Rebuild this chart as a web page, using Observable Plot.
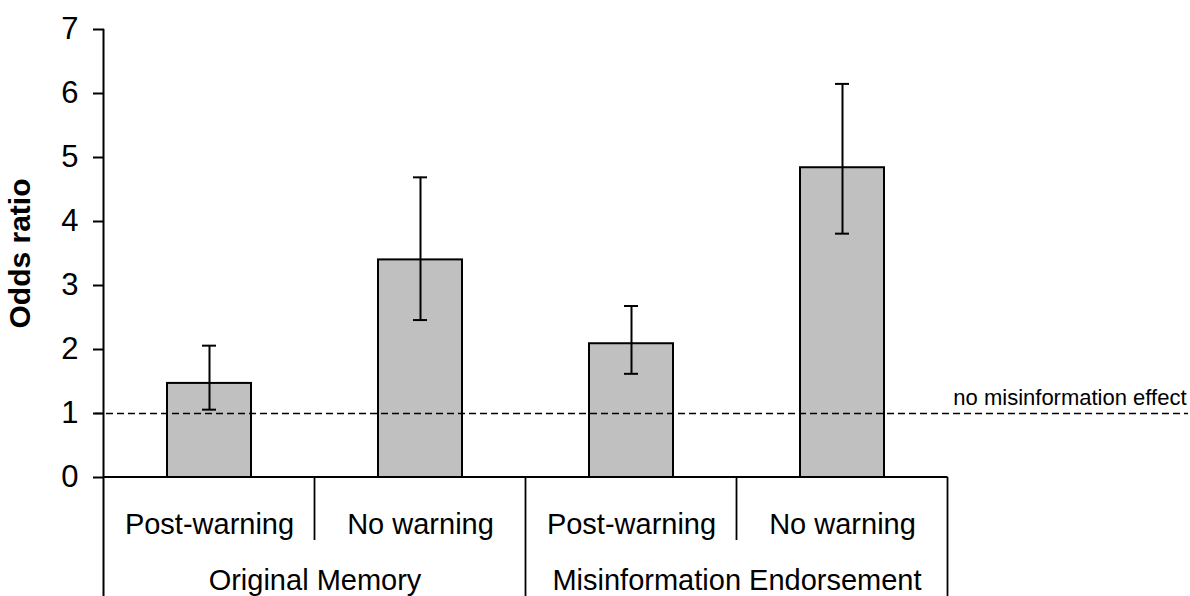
<!DOCTYPE html>
<html>
<head>
<meta charset="utf-8">
<script src="https://cdn.jsdelivr.net/npm/d3@7"></script>
<script src="https://cdn.jsdelivr.net/npm/@observablehq/plot@0.6"></script>
<style>
  html, body { margin: 0; padding: 0; background: #ffffff; }
  #chart { width: 1190px; height: 596px; }
</style>
</head>
<body>
<div id="chart"></div>
<script>
// ---- data ----
const groups = ["Original Memory", "Original Memory", "Misinformation Endorsement", "Misinformation Endorsement"];
const conditions = ["Post-warning", "No warning", "Post-warning", "No warning"];
const oddsRatio = [1.47, 3.40, 2.09, 4.84];
const ciLow = [1.06, 2.46, 1.62, 3.81];
const ciHigh = [2.06, 4.69, 2.68, 6.15];
const yTicks = [0, 1, 2, 3, 4, 5, 6, 7];
const yLabel = "Odds ratio";
const refValue = 1;
const refLabel = "no misinformation effect";

// ---- table built from the arrays ----
const data = conditions.map((c, i) => ({
  key: groups[i] + " | " + c,
  group: groups[i],
  condition: c,
  value: oddsRatio[i],
  lo: ciLow[i],
  hi: ciHigh[i]
}));
const keys = data.map(d => d.key);
const groupNames = Array.from(new Set(groups));
const groupData = groupNames.map(g => ({
  group: g,
  keys: data.filter(d => d.group === g).map(d => d.key)
}));

// ---- layout ----
const W = 1190, H = 596;
const mL = 104, mR = 242, mT = 29, mB = 119;
const FONT = "'Liberation Sans', Arial, Helvetica, sans-serif";

const plot = Plot.plot({
  width: W,
  height: H,
  marginLeft: mL,
  marginRight: mR,
  marginTop: mT,
  marginBottom: mB,
  style: { fontFamily: FONT, background: "#ffffff", color: "#000000", overflow: "visible" },
  x: { domain: keys, paddingInner: 0.6, paddingOuter: 0.3, axis: null },
  y: { domain: [0, 7], axis: null },
  marks: [
    Plot.axisY({
      ticks: yTicks,
      tickSize: 11,
      tickPadding: 15,
      fontSize: 31,
      strokeWidth: 2,
      label: null,
      tickFormat: d => String(d)
    }),
    Plot.barY(data, {
      x: "key", y: "value",
      fill: "#c0c0c0", stroke: "#000000", strokeWidth: 2
    }),
    Plot.ruleY([refValue], {
      stroke: "#000000", strokeWidth: 1.6, strokeDasharray: "7,4",
      insetLeft: -9, insetRight: -240
    }),
    Plot.ruleX(data, { x: "key", y1: "lo", y2: "hi", stroke: "#000000", strokeWidth: 2 }),
    Plot.tickY(data, { x: "key", y: "hi", stroke: "#000000", strokeWidth: 2, insetLeft: 35, insetRight: 35 }),
    Plot.tickY(data, { x: "key", y: "lo", stroke: "#000000", strokeWidth: 2, insetLeft: 35, insetRight: 35 }),
    Plot.text([refLabel], {
      y: () => refValue, text: d => d,
      frameAnchor: "right", textAnchor: "end", lineAnchor: "bottom",
      dx: 238, dy: -9, fontSize: 22, fill: "#000000"
    }),
    Plot.text([yLabel], {
      text: d => d, frameAnchor: "left", rotate: -90,
      dx: -84, fontSize: 30, fontWeight: "bold",
      textAnchor: "middle", lineAnchor: "middle", fill: "#000000"
    }),
    Plot.text(data, {
      x: "key", text: "condition",
      frameAnchor: "bottom", lineAnchor: "bottom", dy: 56,
      fontSize: 29, fill: "#000000"
    }),
    Plot.text(groupData, {
      x: d => d.keys[0], text: "group",
      frameAnchor: "bottom", lineAnchor: "bottom", dy: 112,
      dx: (W - mL - mR) / keys.length / 2,
      fontSize: 29, fill: "#000000"
    })
  ]
});

// structural lines of the category table, positioned from Plot's own scales
const xs = plot.scale("x");
const ys = plot.scale("y");
const svg = d3.select(plot);
const yTop = ys.apply(yTicks[yTicks.length - 1]);
const yZero = ys.apply(0);
const boundary = k => xs.apply(k) + xs.bandwidth / 2 - xs.step / 2;
const lines = svg.append("g").attr("stroke", "#000000").attr("fill", "none");
// y axis line
lines.append("line").attr("x1", boundary(keys[0])).attr("x2", boundary(keys[0]))
  .attr("y1", yTop).attr("y2", H).attr("stroke-width", 2);
// baseline
const xEnd = boundary(keys[keys.length - 1]) + xs.step;
lines.append("line").attr("x1", boundary(keys[0])).attr("x2", xEnd)
  .attr("y1", yZero).attr("y2", yZero).attr("stroke-width", 2);
// separators
keys.forEach((k, i) => {
  if (i === 0) return;
  const isGroupEdge = data[i].group !== data[i - 1].group;
  const bx = boundary(k);
  lines.append("line").attr("x1", bx).attr("x2", bx)
    .attr("y1", yZero).attr("y2", isGroupEdge ? H : yZero + 63).attr("stroke-width", 1.8);
});
lines.append("line").attr("x1", xEnd).attr("x2", xEnd)
  .attr("y1", yZero).attr("y2", H).attr("stroke-width", 1.8);

document.getElementById("chart").appendChild(plot);
</script>
</body>
</html>
